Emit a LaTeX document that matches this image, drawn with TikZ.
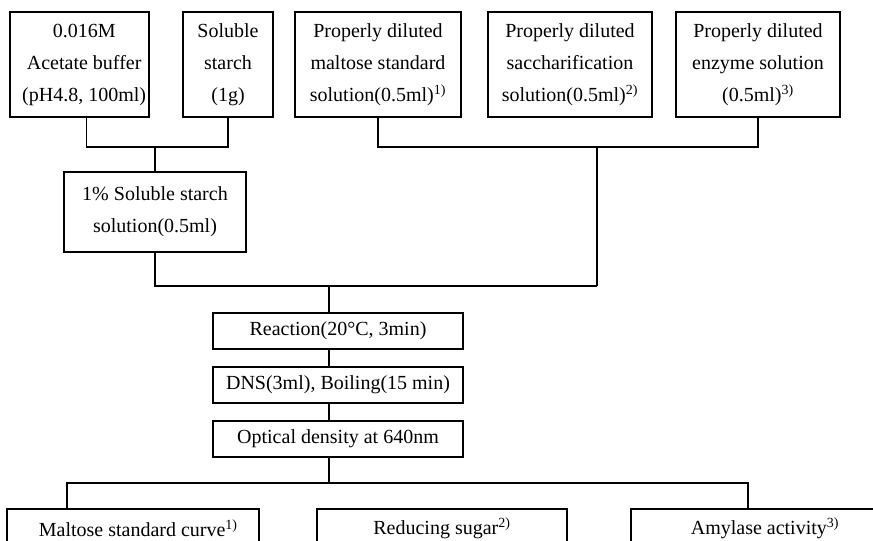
\documentclass[tikz,border=0pt]{standalone}
\usepackage{fontspec}
\setmainfont{Liberation Serif}
\begin{document}
\begin{tikzpicture}[x=0.75pt,y=-0.75pt,
  box/.style={draw, line width=0.8pt, inner sep=0pt, align=center, font=\fontsize{15}{24}\selectfont},
  conn/.style={line width=0.8pt}]
\useasboundingbox (0,0) rectangle (873,541);
\clip (0,0) rectangle (873,541);
\fill[white] (0,0) rectangle (873,541);
% top row
\node[box, minimum width=139*0.75pt, minimum height=105*0.75pt] (b1) at (79.5,64.5)
  {\hspace*{7pt}0.016M\\\hspace*{7pt}Acetate buffer\\\hspace*{7pt}(pH4.8, 100ml)};
\node[box, minimum width=90*0.75pt, minimum height=105*0.75pt] (b2) at (228,64.5)
  {Soluble\\starch\\(1g)};
\node[box, minimum width=166*0.75pt, minimum height=105*0.75pt] (b3) at (378,64.5)
  {Properly diluted\\maltose standard\\solution(0.5ml)\textsuperscript{1)}};
\node[box, minimum width=164*0.75pt, minimum height=105*0.75pt] (b4) at (570,64.5)
  {Properly diluted\\saccharification\\solution(0.5ml)\textsuperscript{2)}};
\node[box, minimum width=164*0.75pt, minimum height=105*0.75pt] (b5) at (758,64.5)
  {Properly diluted\\enzyme solution\\(0.5ml)\textsuperscript{3)}};
\node[box, minimum width=182*0.75pt, minimum height=80*0.75pt] (b6) at (155,212)
  {1\% Soluble starch\\solution(0.5ml)};
% middle column
\node[box, minimum width=250*0.75pt, minimum height=36*0.75pt] (r1) at (338,331)
  {Reaction(20°C, 3min)};
\node[box, minimum width=250*0.75pt, minimum height=36*0.75pt] (r2) at (338,385)
  {DNS(3ml), Boiling(15 min)};
\node[box, minimum width=250*0.75pt, minimum height=36*0.75pt] (r3) at (338,439)
  {Optical density at 640nm};
% bottom row (cut off at the lower edge)
\node[box, minimum width=252*0.75pt, minimum height=38*0.75pt] (o1) at (133,528)
  {\hspace*{8pt}Maltose standard curve\textsuperscript{1)}};
\node[box, minimum width=250*0.75pt, minimum height=38*0.75pt] (o2) at (442,528)
  {Reducing sugar\textsuperscript{2)}};
\node[box, minimum width=268*0.75pt, minimum height=38*0.75pt] (o3) at (765,528)
  {Amylase activity\textsuperscript{3)}};
% junctions
\coordinate (j1) at (155,147);
\coordinate (j2) at (597,147);
\coordinate (j3) at (597,286);
\coordinate (j4) at (329,286);
\coordinate (j5) at (329,483);
\coordinate (j6) at (67,483);
\coordinate (j7) at (748,483);
% connectors
\draw[conn] ([xshift=4.9pt]b1.south) |- (j1) -| (b2.south);
\draw[conn] (j1) -- (b6.north);
\draw[conn] (b3.south) |- (j2) -| (b5.south);
\draw[conn] (j2) -- (j3);
\draw[conn] (b6.south) |- (j3);
\draw[conn] (j4) -- (j4 |- r1.north);
\draw[conn] (r1.south -| j4) -- (r2.north -| j4);
\draw[conn] (r2.south -| j4) -- (r3.north -| j4);
\draw[conn] (r3.south -| j4) -- (j5);
\draw[conn] (o1.north -| j6) |- (j7) -- (o3.north -| j7);
\end{tikzpicture}
\end{document}
